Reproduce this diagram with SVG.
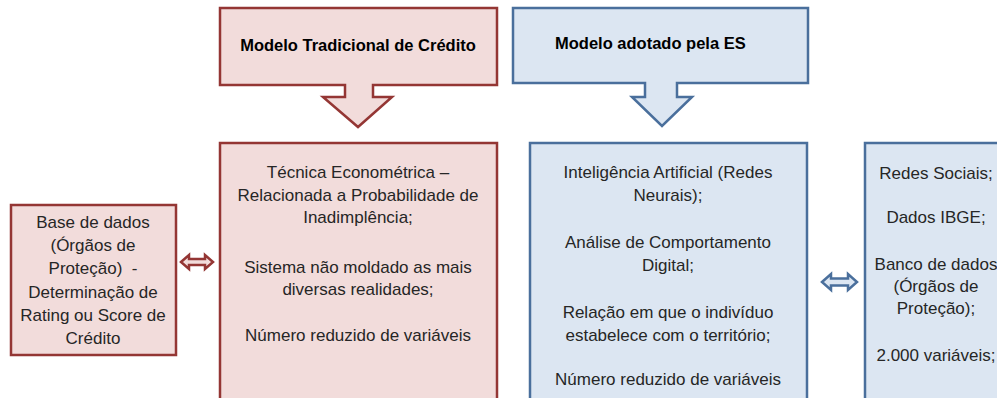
<svg xmlns="http://www.w3.org/2000/svg" width="997" height="398" viewBox="0 0 997 398">
<style>
.red{fill:#f2dcdb;stroke:#943634;stroke-width:2.5}
.blue{fill:#dce6f2;stroke:#4a6f9c;stroke-width:2.5}
text{font-family:"Liberation Sans",Arial,sans-serif;font-size:17px;fill:#262626}
.c{text-anchor:middle}
.b{font-weight:bold;font-size:16.5px;fill:#000}
</style>
<rect width="997" height="398" fill="#fff"/>
<g id="modelo-tradicional">
<path class="red" d="M220,8 H497 V85 H373 V97 H392 L358,127 L323,97 H345 V85 H220 Z"/>
<text class="b c" x="358" y="51">Modelo Tradicional de Crédito</text>
</g>
<g id="modelo-es">
<path class="blue" d="M513,8 H808 V83 H677 V97 H692 L662,126 L632,97 H645 V83 H513 Z"/>
<text class="b" x="555" y="49">Modelo adotado pela ES</text>
</g>
<g id="base-dados">
<rect class="red" x="11" y="205" width="165" height="150"/>
<text class="c" x="93" y="228">Base de dados</text>
<text class="c" x="93" y="251">(Órgãos de</text>
<text class="c" x="93" y="274" xml:space="preserve">Proteção)  -</text>
<text class="c" x="93" y="298">Determinação de</text>
<text class="c" x="93" y="321">Rating ou Score de</text>
<text class="c" x="93" y="344">Crédito</text>
</g>
<g id="tradicional-detalhes">
<rect class="red" x="220" y="143" width="277" height="270"/>
<text class="c" x="358" y="178">Técnica Econométrica –</text>
<text class="c" x="358" y="201">Relacionada a Probabilidade de</text>
<text class="c" x="358" y="223">Inadimplência;</text>
<text class="c" x="358" y="273">Sistema não moldado as mais</text>
<text class="c" x="358" y="295">diversas realidades;</text>
<text class="c" x="358" y="341">Número reduzido de variáveis</text>
</g>
<g id="es-detalhes">
<rect class="blue" x="530" y="143" width="277" height="270"/>
<text class="c" x="668" y="178">Inteligência Artificial (Redes</text>
<text class="c" x="668" y="201">Neurais);</text>
<text class="c" x="668" y="248">Análise de Comportamento</text>
<text class="c" x="668" y="271">Digital;</text>
<text class="c" x="668" y="318">Relação em que o indivíduo</text>
<text class="c" x="668" y="341">estabelece com o território;</text>
<text class="c" x="668" y="385">Número reduzido de variáveis</text>
</g>
<g id="es-fontes">
<rect class="blue" x="865" y="143" width="150" height="270"/>
<text class="c" x="936" y="179">Redes Sociais;</text>
<text class="c" x="936" y="223">Dados IBGE;</text>
<text class="c" x="936" y="270">Banco de dados</text>
<text class="c" x="936" y="292">(Órgãos de</text>
<text class="c" x="936" y="314">Proteção);</text>
<text class="c" x="936" y="361">2.000 variáveis;</text>
</g>
<g id="connectors">
<path class="red" stroke-width="2" d="M181,262 L189,255 V259 H205 V255 L213,262 L205,269 V265 H189 V269 Z"/>
<path class="blue" stroke-width="2" d="M822,282 L831,274 V278.5 H848 V274 L857,282 L848,290 V285.5 H831 V290 Z"/>
</g>
</svg>
